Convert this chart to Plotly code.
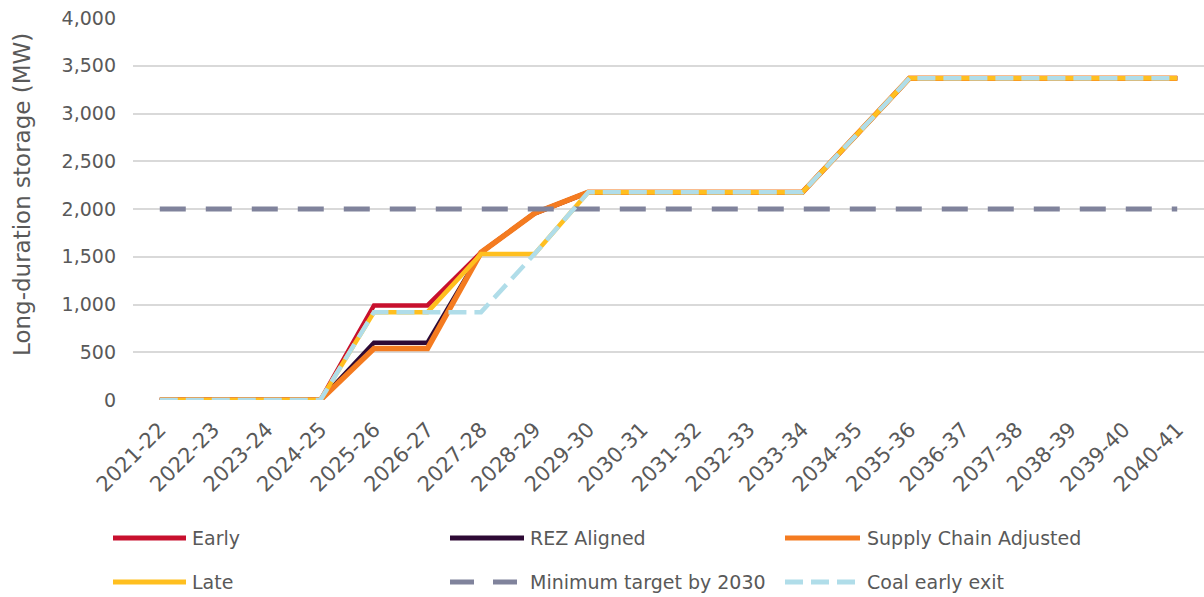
import plotly.graph_objects as go

years = ["2021-22", "2022-23", "2023-24", "2024-25", "2025-26", "2026-27", "2027-28",
         "2028-29", "2029-30", "2030-31", "2031-32", "2032-33", "2033-34", "2034-35",
         "2035-36", "2036-37", "2037-38", "2038-39", "2039-40", "2040-41"]

early = [0, 0, 0, 0, 990, 990, 1545, 1955, 2175, 2175, 2175, 2175, 2175, 2770, 3370, 3370, 3370, 3370, 3370, 3370]
rez_aligned = [0, 0, 0, 0, 600, 600, 1545, 1955, 2175, 2175, 2175, 2175, 2175, 2770, 3370, 3370, 3370, 3370, 3370, 3370]
supply_chain = [0, 0, 0, 0, 540, 540, 1545, 1955, 2175, 2175, 2175, 2175, 2175, 2770, 3370, 3370, 3370, 3370, 3370, 3370]
late = [0, 0, 0, 0, 920, 920, 1530, 1530, 2175, 2175, 2175, 2175, 2175, 2770, 3370, 3370, 3370, 3370, 3370, 3370]
min_target = [2000, 2000, 2000, 2000, 2000, 2000, 2000, 2000, 2000, 2000, 2000, 2000, 2000, 2000, 2000, 2000, 2000, 2000, 2000, 2000]
coal_exit = [0, 0, 0, 0, 920, 920, 920, 1530, 2175, 2175, 2175, 2175, 2175, 2770, 3370, 3370, 3370, 3370, 3370, 3370]

y_ticks = [0, 500, 1000, 1500, 2000, 2500, 3000, 3500, 4000]

FONT = "DejaVu Sans"
GREY = "#595959"

series = [
    ("Early", early, "#c8102e", 4.5, "solid"),
    ("REZ Aligned", rez_aligned, "#2e0a35", 4.5, "solid"),
    ("Supply Chain Adjusted", supply_chain, "#f47b20", 5.5, "solid"),
    ("Late", late, "#ffbf1f", 4.5, "solid"),
    ("Minimum target by 2030", min_target, "#80839c", 5, "26px,20px"),
    ("Coal early exit", coal_exit, "#b0dde9", 4.5, "18px,8px"),
]

fig = go.Figure()
for name, vals, color, w, dash in series:
    fig.add_trace(go.Scatter(
        x=years, y=vals, name=name, mode="lines",
        line=dict(color=color, width=w, dash=dash),
        showlegend=False,
    ))

# plot area geometry (pixels)
L, R, T, B = 133, 1204, 18, 400
W, H = R - L, B - T

def px(x):
    return (x - L) / W

def py(y):
    return (B - y) / H

# custom legend
legend_items = [
    (0, 113, 186, 190, 538),
    (1, 450, 524, 528, 538),
    (2, 785, 860, 865, 538),
    (3, 113, 186, 190, 582),
    (4, 450, 524, 528, 582),
    (5, 785, 860, 865, 582),
]
shapes = []
annotations = []
for idx, x0, x1, tx, yy in legend_items:
    name, vals, color, w, dash = series[idx]
    ldash = dash
    if idx == 4:
        ldash = "24px,19px"
    shapes.append(dict(type="line", xref="paper", yref="paper",
                       x0=px(x0), x1=px(x1), y0=py(yy), y1=py(yy),
                       line=dict(color=color, width=5, dash=ldash)))
    annotations.append(dict(xref="paper", yref="paper", x=px(tx), y=py(yy),
                            text=name, showarrow=False, xanchor="left", yanchor="middle",
                            font=dict(family=FONT, size=19, color=GREY)))

annotations.append(dict(xref="paper", yref="paper", x=px(22), y=py(195),
                        text="Long-duration storage (MW)", textangle=-90, showarrow=False,
                        xanchor="center", yanchor="middle",
                        font=dict(family=FONT, size=23, color=GREY)))

fig.update_layout(
    width=1204, height=597,
    margin=dict(l=L, r=1204 - R, t=T, b=597 - B),
    paper_bgcolor="white", plot_bgcolor="white",
    font=dict(family=FONT, size=19, color=GREY),
    shapes=shapes, annotations=annotations,
    showlegend=False,
)
fig.update_xaxes(
    type="category", range=[-0.5, 19.5], tickangle=-45,
    showgrid=False, showline=False, zeroline=False, ticks="",
    ticklabelstandoff=12,
    tickfont=dict(family=FONT, size=21, color=GREY),
)
fig.update_yaxes(
    range=[0, 4000], tickvals=y_ticks, tickformat=",",
    showgrid=True, gridcolor="#d9d9d9", gridwidth=2,
    zeroline=False, showline=False, ticks="", ticklabelstandoff=16,
    tickfont=dict(family=FONT, size=19, color=GREY),
)

fig.write_html("out.html")
